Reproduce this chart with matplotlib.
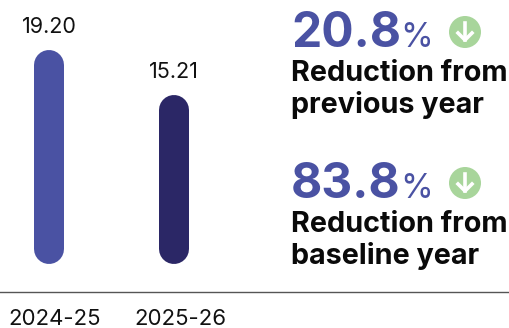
import matplotlib
matplotlib.use('Agg')
import matplotlib.pyplot as plt
from matplotlib.patches import Circle
from matplotlib.transforms import IdentityTransform, Affine2D

years = ['2024-25', '2025-26']
values = [19.20, 15.21]
bar_colors = ['#4a52a3', '#2b2766']
stats = ['20.8', '83.8']
stat_notes = ['Reduction from\nprevious year', 'Reduction from\nbaseline year']

W, H = 510, 328
plt.rcParams['font.family'] = ['Inter', 'DejaVu Sans']
fig = plt.figure(figsize=(W/100, H/100), dpi=100)

# axes runs from the baseline rule (y=292px) up to the top edge
ax = fig.add_axes([0, 1-292/H, 1, 292/H])
ax.set_xlim(-49/125, 461/125)
ax.set_ylim(-28/11.12, 264/11.12)
for s in ['top', 'left', 'right']:
    ax.spines[s].set_visible(False)
ax.spines['bottom'].set_color('#555555')
ax.spines['bottom'].set_linewidth(1.0)
ax.set_yticks([])
ax.set_xticks(range(len(years)))
ax.set_xticklabels(years, fontsize=16, color='#111111')
ax.tick_params(axis='x', length=0, pad=12)
# labels sit a little right of the bars in the original
for lab in ax.get_xticklabels():
    lab.set_transform(lab.get_transform() + Affine2D().translate(6, 0))

# rounded bars, drawn in pixels so the caps stay circular
bar_w = 30
for i, v in enumerate(values):
    x0, y0 = ax.transData.transform((i, 0))
    x1, y1 = ax.transData.transform((i, v))
    r = bar_w/2
    fig.add_artist(plt.Line2D([x0, x1], [y0+r, y1-r], color=bar_colors[i], lw=bar_w*0.72,
                              solid_capstyle='round', transform=IdentityTransform()))
    ax.annotate(f'{v:.2f}', (i, v), xytext=(0, 23), textcoords='offset pixels',
                ha='center', va='center', fontsize=15.5, color='#111111')


def px(x, y):
    return x/W, 1-y/H


for k, top in enumerate([0, 151]):
    fig.text(*px(291, 47+top), stats[k], fontsize=34.5, fontweight='bold',
             color='#4a52a3', va='baseline')
    fig.text(*px(400, 47+top), '%', fontsize=24, color='#4a52a3', va='baseline')
    cx, cy = 465, 32+top
    fig.add_artist(Circle((cx, H-cy), 16, facecolor='#a8d59b', edgecolor='none',
                          transform=IdentityTransform()))
    fig.add_artist(plt.Line2D([cx, cx], [H-cy+9, H-cy-8], color='white', lw=2.6,
                              transform=IdentityTransform()))
    fig.add_artist(plt.Line2D([cx-7, cx, cx+7], [H-cy-1, H-cy-8, H-cy-1], color='white',
                              lw=2.6, transform=IdentityTransform()))
    fig.text(*px(291, 60+top), stat_notes[k], fontsize=20.7, fontweight='bold', color='#0a0a0a',
             va='top', linespacing=1.2)

fig.savefig('out.png', dpi=100)
